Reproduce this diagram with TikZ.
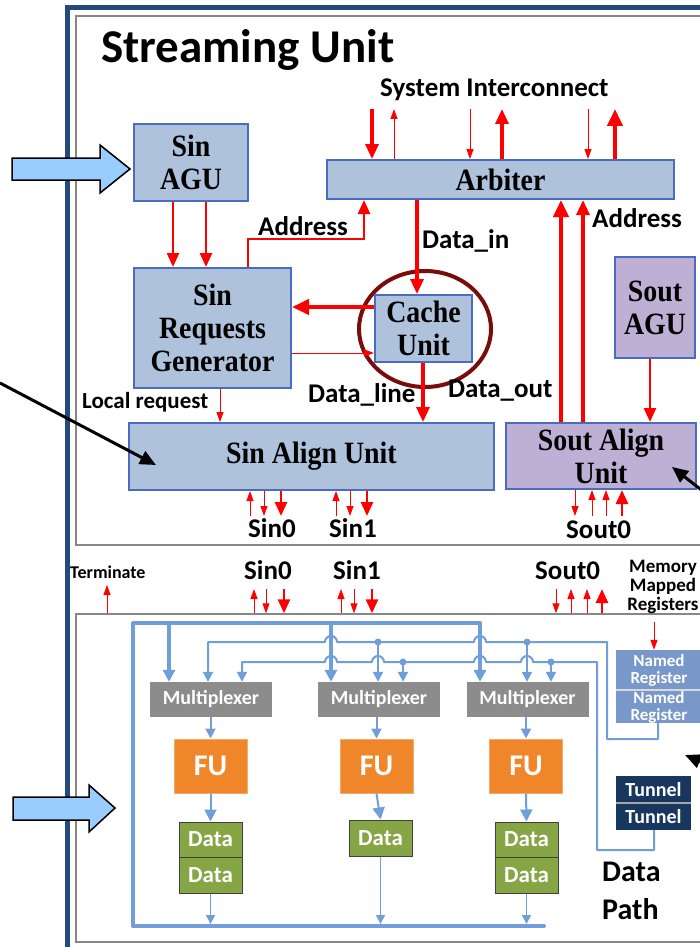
\documentclass[tikz,border=0pt]{standalone}
\usepackage{fontspec}
\setmainfont{Liberation Serif}[FakeStretch=0.9]
\newfontfamily\lblfont{Carlito}
\usetikzlibrary{arrows.meta,shapes.geometric}

\definecolor{frameblue}{RGB}{35,74,126}
\definecolor{panelgrey}{RGB}{135,135,135}
\definecolor{boxline}{RGB}{74,107,192}
\definecolor{sinfill}{RGB}{174,194,220}
\definecolor{soutfill}{RGB}{190,176,213}
\definecolor{ringred}{RGB}{122,12,12}
\definecolor{bus}{RGB}{112,158,218}
\definecolor{muxgrey}{RGB}{140,140,140}
\definecolor{fuorange}{RGB}{240,134,42}
\definecolor{datagreen}{RGB}{134,165,69}
\definecolor{regblue}{RGB}{120,152,202}
\definecolor{tunnelnavy}{RGB}{23,55,94}
\definecolor{bigarrow}{RGB}{153,204,255}

\newcommand\setfs[2]{\fontsize{#1}{#2}\selectfont}

\begin{document}
\begin{tikzpicture}[x=1pt,y=-1pt,
  lbl/.style={inner sep=0pt, anchor=base west, font=\lblfont\bfseries\setfs{27}{30}},
  panel/.style={draw=panelgrey, line width=1.5pt, inner sep=0pt},
  ubox/.style={draw=boxline, line width=2pt, inner sep=0pt, align=center,
               font=\bfseries\setfs{31}{33}},
  sinbox/.style={ubox, fill=sinfill},
  soutbox/.style={ubox, fill=soutfill},
  rthin/.style={draw=red, line width=1pt, -{Triangle[length=10pt,width=7pt]}},
  rmid/.style={draw=red, line width=2.6pt, -{Triangle[length=14pt,width=12pt]}},
  rthick/.style={draw=red, line width=3.2pt, -{Triangle[length=15pt,width=13pt]}},
  rheavy/.style={draw=red, line width=4pt, -{Triangle[length=17pt,width=15pt]}},
  buswide/.style={draw=bus, line width=4pt, line join=round, line cap=round},
  busnarrow/.style={draw=bus, line width=2pt, line join=round},
  bigtip/.style={-{Triangle[length=12pt,width=12pt]}},
  smalltip/.style={-{Triangle[length=10pt,width=10pt]}},
  junction/.style={circle, fill=bus, inner sep=0pt, minimum size=7pt},
  mux/.style={fill=muxgrey, inner sep=0pt, minimum width=122, minimum height=35,
              text=white, font=\lblfont\bfseries\setfs{20}{22}},
  fu/.style={fill=fuorange, draw=fuorange!70!white, line width=1pt, inner sep=0pt,
             minimum width=73, minimum height=54, text=white,
             font=\lblfont\bfseries\setfs{30}{32}},
  datbox/.style={fill=datagreen, draw=black!75, line width=1pt, inner sep=0pt,
                 minimum width=63, text=white, font=\lblfont\bfseries\setfs{23}{25}},
  regbox/.style={fill=regblue, inner sep=0pt, minimum width=86, align=center,
                 text=white, font=\lblfont\bfseries\setfs{17}{17}},
  tunbox/.style={fill=tunnelnavy, inner sep=0pt, minimum width=75, minimum height=27,
                 text=white, font=\lblfont\bfseries\setfs{20}{22}},
  fatarrow/.style={fill=bigarrow, draw=black, line width=1.5pt, line join=miter},
  ptr/.style={draw=black, line width=3pt, -{Triangle[length=16pt,width=14pt]}}
]
\useasboundingbox (0,0) rectangle (700,947);

% panels and outer frame
\node[panel, minimum width=634, minimum height=529] (sunit) at (393,280.5) {};
\node[panel, minimum width=634, minimum height=328] (dpath) at (393,778) {};
\draw[frameblue, line width=5pt] (67,952) -- (67,8) -- (712,8);

% ---------------- streaming unit ----------------
\node[lbl, font=\lblfont\bfseries\setfs{47}{50}] (title) at (101,63) {Streaming Unit};
\node[lbl] (sysic) at (380,97) {System Interconnect};

\node[sinbox, minimum width=114, minimum height=77] (sinagu) at (191,162.5) {Sin\\AGU};
\node[sinbox, minimum width=347, minimum height=39] (arbiter) at (500.5,179.5) {Arbiter};
\node[sinbox, minimum width=157, minimum height=120] (srg) at (212.5,328) {Sin\\Requests\\Generator};
\node[ellipse, draw=ringred, line width=4pt, inner sep=0pt,
      minimum width=132, minimum height=116] (ring) at (425,329) {};
\node[sinbox, minimum width=97, minimum height=67] (cache) at (423.5,328.5) {Cache\\Unit};
\node[sinbox, minimum width=365, minimum height=67] (sinalign) at (311.5,456.5) {Sin Align Unit};
\node[soutbox, minimum width=190, minimum height=66] (soutalign) at (601,456) {Sout Align\\Unit};
\node[soutbox, minimum width=80, minimum height=101] (soutagu) at (655,307.5) {Sout\\AGU};

% system interconnect ports
\coordinate (sysrow) at (0,109);
\draw[rthick] (372,0 |- sysrow) -- (372,0 |- arbiter.north);
\draw[rthin]  (394,0 |- arbiter.north) -- (394,0 |- sysrow);
\draw[rthin]  (470,0 |- sysrow) -- (470,0 |- arbiter.north);
\draw[rthick] (502,0 |- arbiter.north) -- (502,0 |- sysrow);
\draw[rthin]  (588,0 |- sysrow) -- (588,0 |- arbiter.north);
\draw[rheavy] (615,0 |- arbiter.north) -- (615,0 |- sysrow);

% internal request / data paths
\draw[rmid] (173,0 |- sinagu.south) -- (173,0 |- srg.north);
\draw[rmid] (206,0 |- sinagu.south) -- (206,0 |- srg.north);
\draw[rmid] (248,0 |- srg.north) -- (248,239) -| (364,0 |- arbiter.south);
\draw[rthick] (417,0 |- arbiter.south) -- (417,0 |- cache.north);
\draw[rheavy] (cache.west |- 0,307) -- (srg.east |- 0,307);
\draw[rthin] (srg.east |- 0,353) -- (cache.west |- 0,353);
\draw[rthick] (423,0 |- cache.south) -- (423,0 |- sinalign.north);
\draw[rthin] (220,0 |- srg.south) -- (220,0 |- sinalign.north);
\draw[rheavy] (561,0 |- soutalign.north) -- (561,0 |- arbiter.south);
\draw[rthick] (583,0 |- soutalign.north) -- (583,0 |- arbiter.south);
\draw[rmid] (650,0 |- soutagu.south) -- (650,0 |- soutalign.north);

\node[lbl] (addrl) at (258,235) {Address};
\node[lbl] (datain) at (422,248) {Data\_in};
\node[lbl] (addrr) at (592,227) {Address};
\node[lbl] (dline) at (308,402) {Data\_line};
\node[lbl] (dout) at (448,397) {Data\_out};
\node[lbl, font=\lblfont\bfseries\setfs{23}{25}] (locreq) at (82,408) {Local request};

% stream ports of the align units
\coordinate (sinrow) at (0,516);
\draw[rthin] (250,0 |- sinrow) -- (250,0 |- sinalign.south);
\draw[rthin] (264,0 |- sinalign.south) -- (264,0 |- sinrow);
\draw[rmid]  (281,0 |- sinalign.south) -- (281,0 |- sinrow);
\draw[rthin] (336,0 |- sinrow) -- (336,0 |- sinalign.south);
\draw[rthin] (350,0 |- sinalign.south) -- (350,0 |- sinrow);
\draw[rmid]  (367,0 |- sinalign.south) -- (367,0 |- sinrow);
\draw[rthin] (575,0 |- soutalign.south) -- (575,0 |- sinrow);
\draw[rthin] (592,0 |- sinrow) -- (592,0 |- soutalign.south);
\draw[rthin] (606,0 |- sinrow) -- (606,0 |- soutalign.south);
\draw[rmid]  (622,0 |- sinrow) -- (622,0 |- soutalign.south);
\node[lbl] (usin0) at (248,537) {Sin0};
\node[lbl] (usin1) at (329,537) {Sin1};
\node[lbl] (usout0) at (566,538) {Sout0};

% ---------------- data path ----------------
\node[lbl, font=\lblfont\bfseries\setfs{18}{20}] (term) at (70,578) {Terminate};
\node[lbl] (lsin0) at (244,579) {Sin0};
\node[lbl] (lsin1) at (333,579) {Sin1};
\node[lbl] (lsout0) at (535,579) {Sout0};
\node[inner sep=0pt, anchor=north, align=center, font=\lblfont\bfseries\setfs{19}{19}]
  (mmr) at (663,560) {Memory\\Mapped\\Registers};
\node[inner sep=0pt, anchor=north west, align=left, font=\lblfont\bfseries\setfs{30}{38}]
  (dplabel) at (602,862) {Data\\Path};

\node[mux] (mux1) at (211,699.5) {Multiplexer};
\node[mux] (mux2) at (379,699.5) {Multiplexer};
\node[mux] (mux3) at (527.5,699.5) {Multiplexer};
\node[fu] (fu1) at (210.5,766) {FU};
\node[fu] (fu2) at (376.5,766) {FU};
\node[fu] (fu3) at (526,766) {FU};
\node[datbox, minimum height=35] (d1a) at (210.5,839.5) {Data};
\node[datbox, minimum height=36] (d1b) at (210.5,875) {Data};
\node[datbox, minimum height=36] (d2)  at (380.5,838) {Data};
\node[datbox, minimum height=35] (d3a) at (526.5,839.5) {Data};
\node[datbox, minimum height=36] (d3b) at (526.5,875) {Data};

\node[regbox, minimum height=40] (nra) at (659,670) {Named\\Register};
\node[regbox, minimum height=32] (nrb) at (659,707) {Named\\Register};
\draw[black!15, line width=2pt] (nra.south west) -- (nra.south east);
\node[tunbox] (tuna) at (653.5,789.5) {Tunnel};
\node[tunbox] (tunb) at (653.5,816.5) {Tunnel};
\draw[gray!70, line width=2pt] (tuna.south west) -- (tuna.south east);

% port arrows of the data path
\coordinate (dprow) at (0,589);
\coordinate (termrow) at (0,585);
\coordinate (memrow) at (0,622);
\draw[rthin] (107,0 |- dpath.north) -- (107,0 |- termrow);
\draw[rthin] (254,0 |- dpath.north) -- (254,0 |- dprow);
\draw[rthin] (266,0 |- dprow) -- (266,0 |- dpath.north);
\draw[rmid]  (284,0 |- dprow) -- (284,0 |- dpath.north);
\draw[rthin] (341,0 |- dpath.north) -- (341,0 |- dprow);
\draw[rthin] (354,0 |- dprow) -- (354,0 |- dpath.north);
\draw[rmid]  (372,0 |- dprow) -- (372,0 |- dpath.north);
\draw[rthin] (556,0 |- dprow) -- (556,0 |- dpath.north);
\draw[rthin] (571,0 |- dpath.north) -- (571,0 |- dprow);
\draw[rthin] (587,0 |- dpath.north) -- (587,0 |- dprow);
\draw[rmid]  (602,0 |- dpath.north) -- (602,0 |- dprow);
\draw[rthin] (654,0 |- memrow) -- (654,0 |- nra.north);

% interconnect buses
\coordinate (bustop) at (0,623);
\coordinate (line2) at (0,642);
\coordinate (line3) at (0,662);
\coordinate (busbot) at (0,926);
\draw[buswide, bigtip] (544,0 |- busbot) -- (133,0 |- busbot) -- (133,0 |- bustop)
  -- (480,0 |- bustop) -- (480,0 |- mux3.north);
\draw[buswide, bigtip] (169,0 |- bustop) -- (169,0 |- mux1.north);
\draw[buswide, bigtip] (331,0 |- bustop) -- (331,0 |- mux2.north);

\draw[busnarrow, smalltip] (658,0 |- nrb.south) -- (658,739) -- (607,739) -- (607,0 |- line2)
  -- (486,0 |- line2) arc[start angle=0, end angle=180, radius=6pt]
  -- (337,0 |- line2) arc[start angle=0, end angle=180, radius=6pt]
  -- (208,0 |- line2) -- (208,0 |- mux1.north);
\draw[busnarrow, smalltip] (654,0 |- tunb.south) -- (654,850) -- (597,850) -- (597,0 |- line3)
  -- (533,0 |- line3) arc[start angle=0, end angle=180, radius=6pt]
  -- (486,0 |- line3) arc[start angle=0, end angle=180, radius=6pt]
  -- (384,0 |- line3) arc[start angle=0, end angle=180, radius=6pt]
  -- (337,0 |- line3) arc[start angle=0, end angle=180, radius=6pt]
  -- (242,0 |- line3) -- (242,0 |- mux1.north);

\node[junction] (j2a) at (378,642) {};
\node[junction] (j2b) at (527,642) {};
\node[junction] (j3a) at (403,662) {};
\node[junction] (j3b) at (551,662) {};
\draw[busnarrow, smalltip] (j2a.center) -- (j2a |- mux2.north);
\draw[busnarrow, smalltip] (j2b.center) -- (j2b |- mux3.north);
\draw[busnarrow, smalltip] (j3a.center) -- (j3a |- mux2.north);
\draw[busnarrow, smalltip] (j3b.center) -- (j3b |- mux3.north);

% column flow
\foreach \m/\f/\d/\o in {mux1/fu1/d1a/d1b, mux2/fu2/d2/d2, mux3/fu3/d3a/d3b}{
  \draw[busnarrow, smalltip] (\f.north |- \m.south) -- (\f.north);
  \draw[busnarrow, -{Triangle[length=12pt,width=12pt]}] (\f.south) -- (\d.north);
  \draw[draw=bus, line width=1.5pt, -{Triangle[length=9pt,width=9pt]}, shorten >=2pt]
    (\o.south) -- (\o.south |- busbot);
}

% entry arrows and pointers
\draw[fatarrow] (12,158) -- (100,158) -- (100,145) -- (130,169) -- (100,193) -- (100,180) -- (12,180) -- cycle;
\draw[fatarrow] (13,797) -- (89,797) -- (89,785) -- (115,808) -- (89,832) -- (89,820) -- (13,820) -- cycle;
\coordinate (ptrA) at (0,383);
\coordinate (ptrAtip) at (156,465);
\coordinate (ptrB) at (704,492);
\coordinate (ptrBtip) at (672,467);
\coordinate (ptrC) at (716,768);
\coordinate (ptrCtip) at (685,755);
\draw[ptr] (ptrA) -- (ptrAtip);
\draw[ptr] (ptrB) -- (ptrBtip);
\draw[ptr] (ptrC) -- (ptrCtip);
\end{tikzpicture}
\end{document}
